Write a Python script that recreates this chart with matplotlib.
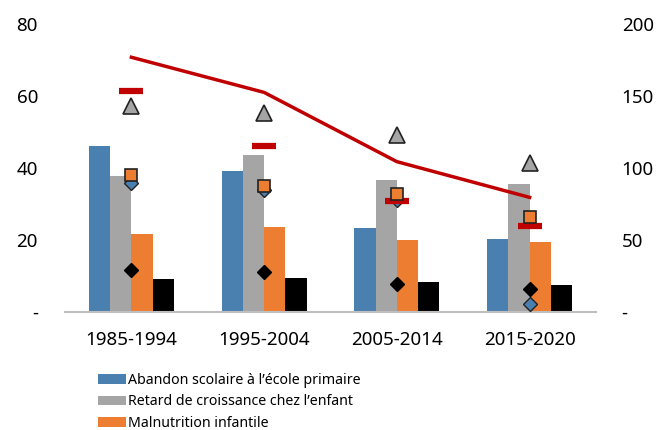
import matplotlib.pyplot as plt
import numpy as np

plt.rcParams['font.family'] = ['Noto Sans', 'DejaVu Sans']

periods = ['1985-1994', '1995-2004', '2005-2014', '2015-2020']

# bars (left axis)
abandon = [46.0, 39.2, 23.2, 20.3]
retard = [37.8, 43.6, 36.7, 35.5]
malnutrition = [21.7, 23.6, 20.1, 19.4]
black_bar = [9.3, 9.4, 8.4, 7.5]

# markers (left axis)
red_dash = [61.4, 46.1, 30.9, 23.8]
gray_tri = [57.2, 55.4, 49.2, 41.5]
orange_sq = [38.1, 35.1, 32.8, 26.5]
blue_dia = [35.8, 34.0, 31.2, 2.2]
black_dia = [11.7, 11.2, 7.8, 6.5]

# line (right axis)
red_line = [176.9, 152.5, 104.4, 79.6]

left_ticks = [0, 20, 40, 60, 80]
left_labels = ['-', '20', '40', '60', '80']
right_ticks = [0, 50, 100, 150, 200]
right_labels = ['-', '50', '100', '150', '200']

blue = '#4A80B0'
gray = '#A5A5A5'
orange = '#ED7D31'
red = '#C00000'

fig = plt.figure(figsize=(6.56, 4.30), dpi=100)
ax = fig.add_axes([65 / 656, 118 / 430, 531 / 656, 288 / 430])
ax2 = ax.twinx()

x = np.arange(len(periods))
w = 0.16
ax.bar(x - 1.5 * w, abandon, w, color=blue, label='Abandon scolaire à l\u2019école primaire', zorder=2)
ax.bar(x - 0.5 * w, retard, w, color=gray, label='Retard de croissance chez l\u2019enfant', zorder=2)
ax.bar(x + 0.5 * w, malnutrition, w, color=orange, label='Malnutrition infantile', zorder=2)
ax.bar(x + 1.5 * w, black_bar, w, color='black', zorder=2)

ax.plot(x, blue_dia, linestyle='none', marker='D', markersize=7.5, markerfacecolor=blue,
        markeredgecolor='#222222', markeredgewidth=1.0, zorder=3)
ax.plot(x, red_dash, linestyle='none', marker='_', markersize=17, markeredgewidth=4.5, color=red, zorder=4)
ax.plot(x, gray_tri, linestyle='none', marker='^', markersize=11, markerfacecolor=gray,
        markeredgecolor='#222222', markeredgewidth=1.2, zorder=4)
ax.plot(x, orange_sq, linestyle='none', marker='s', markersize=9, markerfacecolor=orange,
        markeredgecolor='#222222', markeredgewidth=1.2, zorder=5)
ax.plot(x, black_dia, linestyle='none', marker='D', markersize=7, color='black', zorder=4)

ax2.plot(x, red_line, color=red, linewidth=2.5)

ax.set_xlim(-0.5, 3.5)
ax.set_ylim(0, 80)
ax2.set_ylim(0, 200)
ax.set_xticks(x)
ax.set_xticklabels(periods, fontsize=13.5)
ax.set_yticks(left_ticks)
ax.set_yticklabels(left_labels, fontsize=13.5)
ax2.set_yticks(right_ticks)
ax2.set_yticklabels(right_labels, fontsize=13.5)

for a in (ax, ax2):
    for s in ('top', 'left', 'right'):
        a.spines[s].set_visible(False)
    a.tick_params(length=0)
ax2.spines['bottom'].set_visible(False)
ax.spines['bottom'].set_color('#BFBFBF')
ax.spines['bottom'].set_linewidth(1.5)
ax.tick_params(axis='x', pad=14)
ax.tick_params(axis='y', pad=19.5)
ax2.tick_params(axis='y', pad=18.5)

leg = ax.legend(loc='upper left', bbox_to_anchor=(98 / 656, 1 - 373 / 430), bbox_transform=fig.transFigure,
                frameon=False, fontsize=10.2, handlelength=2.0, handleheight=0.65,
                handletextpad=0.12, labelspacing=0.45, borderaxespad=0, borderpad=0)

fig.savefig('out.png', dpi=100)
